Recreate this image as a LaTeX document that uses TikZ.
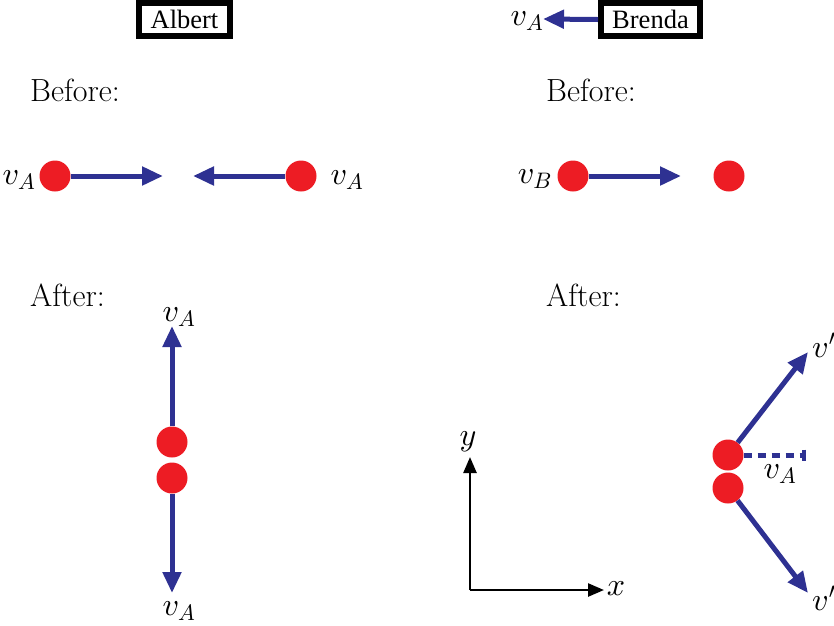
\documentclass[tikz,border=0pt]{standalone}
\usepackage{fontspec}
\DeclareFontShape{OML}{cmm}{m}{it}{<-> cmmi10}{}
\DeclareFontShape{OMS}{cmsy}{m}{n}{<-> cmsy10}{}
\usetikzlibrary{arrows.meta}
\definecolor{vblue}{HTML}{2E3192}
\definecolor{bred}{HTML}{ED1C24}
\tikzset{
  txt/.style={font=\fontsize{32}{38}\selectfont, inner sep=0pt},
  namebox/.style={draw, line width=6pt, inner sep=0pt, font={\fontspec{Liberation Serif}\fontsize{26.5}{30}\selectfont}, minimum height=33pt},
  ball/.style={circle, fill=bred, minimum size=31pt, inner sep=0pt},
  varrow/.style={draw=vblue, line width=5pt, -{Triangle[length=21pt,width=18pt]}},
  axarrow/.style={draw=black, line width=2.5pt, -{Triangle[length=16pt,width=13pt]}},
  dashvec/.style={draw=vblue, line width=5pt, dash pattern=on 8pt off 6pt, -{Bar[width=11pt,line width=4pt]}},
}
\begin{document}
\begin{tikzpicture}[x=1pt,y=-1pt]
\useasboundingbox (0,0) rectangle (834,625);
% name boxes
\node[namebox, minimum width=91pt] (albert) at (184.5,19.5) {Albert};
\node[namebox, minimum width=99pt] (brenda) at (650.5,19.5) {Brenda};
\coordinate (btip) at (543,19);
\draw[varrow] (brenda.west) -- (btip);
\node[txt] (lvAtop) at (527,21) {$v_A$};
% Before / After
\node[txt, anchor=base west] (bef1) at (30,101) {Before:};
\node[txt, anchor=base west] (bef2) at (546,101) {Before:};
\node[txt, anchor=base west] (aft1) at (30,306) {After:};
\node[txt, anchor=base west] (aft2) at (546,306) {After:};
% Albert before
\node[ball] (a1) at (55,176) {};
\node[ball] (a2) at (301,176) {};
\coordinate (a1t) at (163,176);
\coordinate (a2t) at (193,176);
\draw[varrow] (a1) -- (a1t);
\draw[varrow] (a2) -- (a2t);
\node[txt] (la1) at (19,180) {$v_A$};
\node[txt] (la2) at (347,180) {$v_A$};
% Brenda before
\node[ball] (b1) at (573,176) {};
\node[ball] (b2) at (729,176) {};
\coordinate (b1t) at (681,176);
\draw[varrow] (b1) -- (b1t);
\node[txt] (lb1) at (535,179) {$v_B$};
% Albert after
\node[ball] (c1) at (172,442) {};
\node[ball] (c2) at (172,478) {};
\coordinate (c1t) at (172,326);
\coordinate (c2t) at (172,593);
\draw[varrow] (c1) -- (c1t);
\draw[varrow] (c2) -- (c2t);
\node[txt] (lc1) at (179,317) {$v_A$};
\node[txt] (lc2) at (179,611) {$v_A$};
% Brenda after
\node[ball] (d1) at (728,455) {};
\node[ball] (d2) at (728,488) {};
\coordinate (d1t) at (808,352);
\coordinate (d2t) at (808,593);
\coordinate (dend) at (806,455);
\draw[varrow] (d1) -- (d1t);
\draw[varrow] (d2) -- (d2t);
\draw[dashvec] (d1) -- (dend);
\node[txt] (ld) at (780,474) {$v_A$};
\node[txt, anchor=west] (ld1) at (812,345) {$v'$};
\node[txt, anchor=west] (ld2) at (812,598) {$v'$};
% axes
\coordinate (O) at (470,590);
\coordinate (yt) at (470,457);
\coordinate (xt) at (604,590);
\draw[axarrow] (O) -- (yt);
\draw[axarrow] (O) -- (xt);
\node[txt] (ly) at (468,442) {$y$};
\node[txt] (lx) at (616,589) {$x$};
\end{tikzpicture}
\end{document}
